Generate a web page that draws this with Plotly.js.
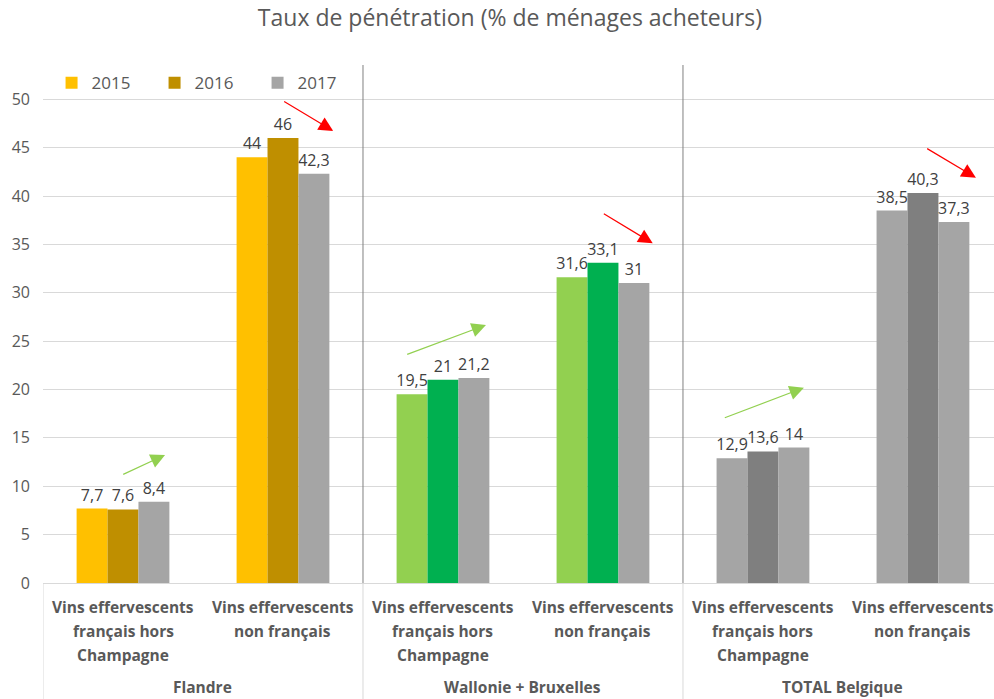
<!DOCTYPE html>
<html>
<head>
<meta charset="utf-8">
<script src="https://cdn.plot.ly/plotly-3.0.1.min.js"></script>
<style>html,body{margin:0;padding:0;background:#fff;}#chart{width:994px;height:699px;}</style>
</head>
<body>
<div id="chart"></div>
<script>
// ---- data ----
const categories = [
  "Vins effervescents<br>français hors<br>Champagne", "Vins effervescents<br>non français",
  "Vins effervescents<br>français hors<br>Champagne", "Vins effervescents<br>non français",
  "Vins effervescents<br>français hors<br>Champagne", "Vins effervescents<br>non français"
];
const regions = ["Flandre", "Wallonie + Bruxelles", "TOTAL Belgique"];
const years = ["2015", "2016", "2017"];
const values2015 = [7.7, 44, 19.5, 31.6, 12.9, 38.5];
const values2016 = [7.6, 46, 21, 33.1, 13.6, 40.3];
const values2017 = [8.4, 42.3, 21.2, 31, 14, 37.3];
const colors2015 = ["#FFC000", "#FFC000", "#92D050", "#92D050", "#A5A5A5", "#A5A5A5"];
const colors2016 = ["#BF8F00", "#BF8F00", "#00B050", "#00B050", "#7F7F7F", "#7F7F7F"];
const colors2017 = ["#A5A5A5", "#A5A5A5", "#A5A5A5", "#A5A5A5", "#A5A5A5", "#A5A5A5"];
// trend arrows: [x start, y start, x end, y end] in axis units
const arrowStartX = [-0.008, 0.998, 1.767, 2.996, 3.752, 5.017];
const arrowStartY = [11.16, 49.85, 23.57, 38.27, 17.02, 44.99];
const arrowEndX   = [0.263, 1.314, 2.269, 3.311, 4.256, 5.331];
const arrowEndY   = [13.23, 46.72, 26.67, 35.11, 20.19, 41.89];
const arrowColors = ["#92D050", "#FF0000", "#92D050", "#FF0000", "#92D050", "#FF0000"];

const FONT = "Open Sans, Noto Sans, sans-serif";
const xpos = categories.map((c, i) => i);
const fmt = v => String(v).replace(".", ",");

function barTrace(name, vals, cols) {
  return {
    type: "bar", name: name, x: xpos, y: vals,
    marker: {color: cols, line: {width: 0}},
    text: vals.map(fmt), textposition: "outside", cliponaxis: false,
    constraintext: "none",
    textfont: {family: FONT, size: 16, color: "#404040"},
    hoverinfo: "skip"
  };
}
const data = [
  barTrace(years[0], values2015, colors2015),
  barTrace(years[1], values2016, colors2016),
  barTrace(years[2], values2017, colors2017)
];

const PLOT_H = 518;
const annotations = [];
// category labels, one annotation per line (24px line spacing)
categories.forEach((c, i) => {
  c.split("<br>").forEach((line, k) => {
    annotations.push({
      text: "<b>" + line + "</b>", xref: "x", yref: "paper", x: i,
      y: -(24 + 24 * k) / PLOT_H, yanchor: "middle", showarrow: false,
      font: {family: FONT, size: 15.5, color: "#595959"}
    });
  });
});
regions.forEach((r, i) => {
  annotations.push({
    text: "<b>" + r + "</b>", xref: "x", yref: "paper", x: 2 * i + 0.5, y: -104 / PLOT_H,
    yanchor: "middle", showarrow: false,
    font: {family: FONT, size: 15.5, color: "#595959"}
  });
});
arrowStartX.forEach((x0, i) => {
  annotations.push({
    xref: "x", yref: "y", axref: "x", ayref: "y",
    x: arrowEndX[i], y: arrowEndY[i], ax: x0, ay: arrowStartY[i],
    text: "", showarrow: true, arrowhead: 2, arrowsize: 2.4, arrowwidth: 1.2,
    arrowcolor: arrowColors[i]
  });
});

const shapes = [];
[1.5, 3.5].forEach(xs => {
  shapes.push({type: "line", xref: "x", yref: "paper", x0: xs, x1: xs, y0: 0, y1: 1,
    line: {color: "#808080", width: 1}});
  shapes.push({type: "line", xref: "x", yref: "paper", x0: xs, x1: xs, y0: -0.3, y1: 0,
    line: {color: "#D9D9D9", width: 1}});
});
shapes.push({type: "line", xref: "x", yref: "paper", x0: -0.5, x1: -0.5, y0: -0.3, y1: 0,
  line: {color: "#D9D9D9", width: 1}});

const layout = {
  width: 994, height: 699,
  margin: {l: 43, r: 0, t: 65, b: 116},
  paper_bgcolor: "#FFFFFF", plot_bgcolor: "#FFFFFF",
  font: {family: FONT, color: "#595959"},
  title: {
    text: "Taux de pénétration (% de ménages acheteurs)",
    font: {family: FONT, size: 23, color: "#595959"},
    xref: "container", x: 0.513, xanchor: "center",
    yref: "container", y: 0.974, yanchor: "middle"
  },
  barmode: "group", bargap: 0.42, bargroupgap: 0,
  showlegend: true,
  legend: {
    orientation: "h", x: 0.009, xanchor: "left", y: 0.965, yanchor: "middle",
    entrywidth: 58, entrywidthmode: "pixels",
    bgcolor: "rgba(0,0,0,0)", borderwidth: 0,
    font: {family: FONT, size: 17, color: "#595959"},
    traceorder: "normal"
  },
  xaxis: {
    range: [-0.5, 5.444], tickmode: "array", tickvals: xpos, ticktext: categories,
    showticklabels: false,
    showgrid: false, zeroline: false, showline: true, linecolor: "#D9D9D9", linewidth: 1,
    ticks: "", fixedrange: true
  },
  yaxis: {
    range: [0, 53.54], tickmode: "linear", tick0: 0, dtick: 5,
    showgrid: true, gridcolor: "#D9D9D9", gridwidth: 1, zeroline: false, showline: false,
    ticks: "", ticklabelstandoff: 12,
    tickfont: {family: FONT, size: 16, color: "#595959"},
    fixedrange: true
  },
  annotations: annotations,
  shapes: shapes
};

Plotly.newPlot("chart", data, layout, {displayModeBar: false, staticPlot: true});
</script>
</body>
</html>
